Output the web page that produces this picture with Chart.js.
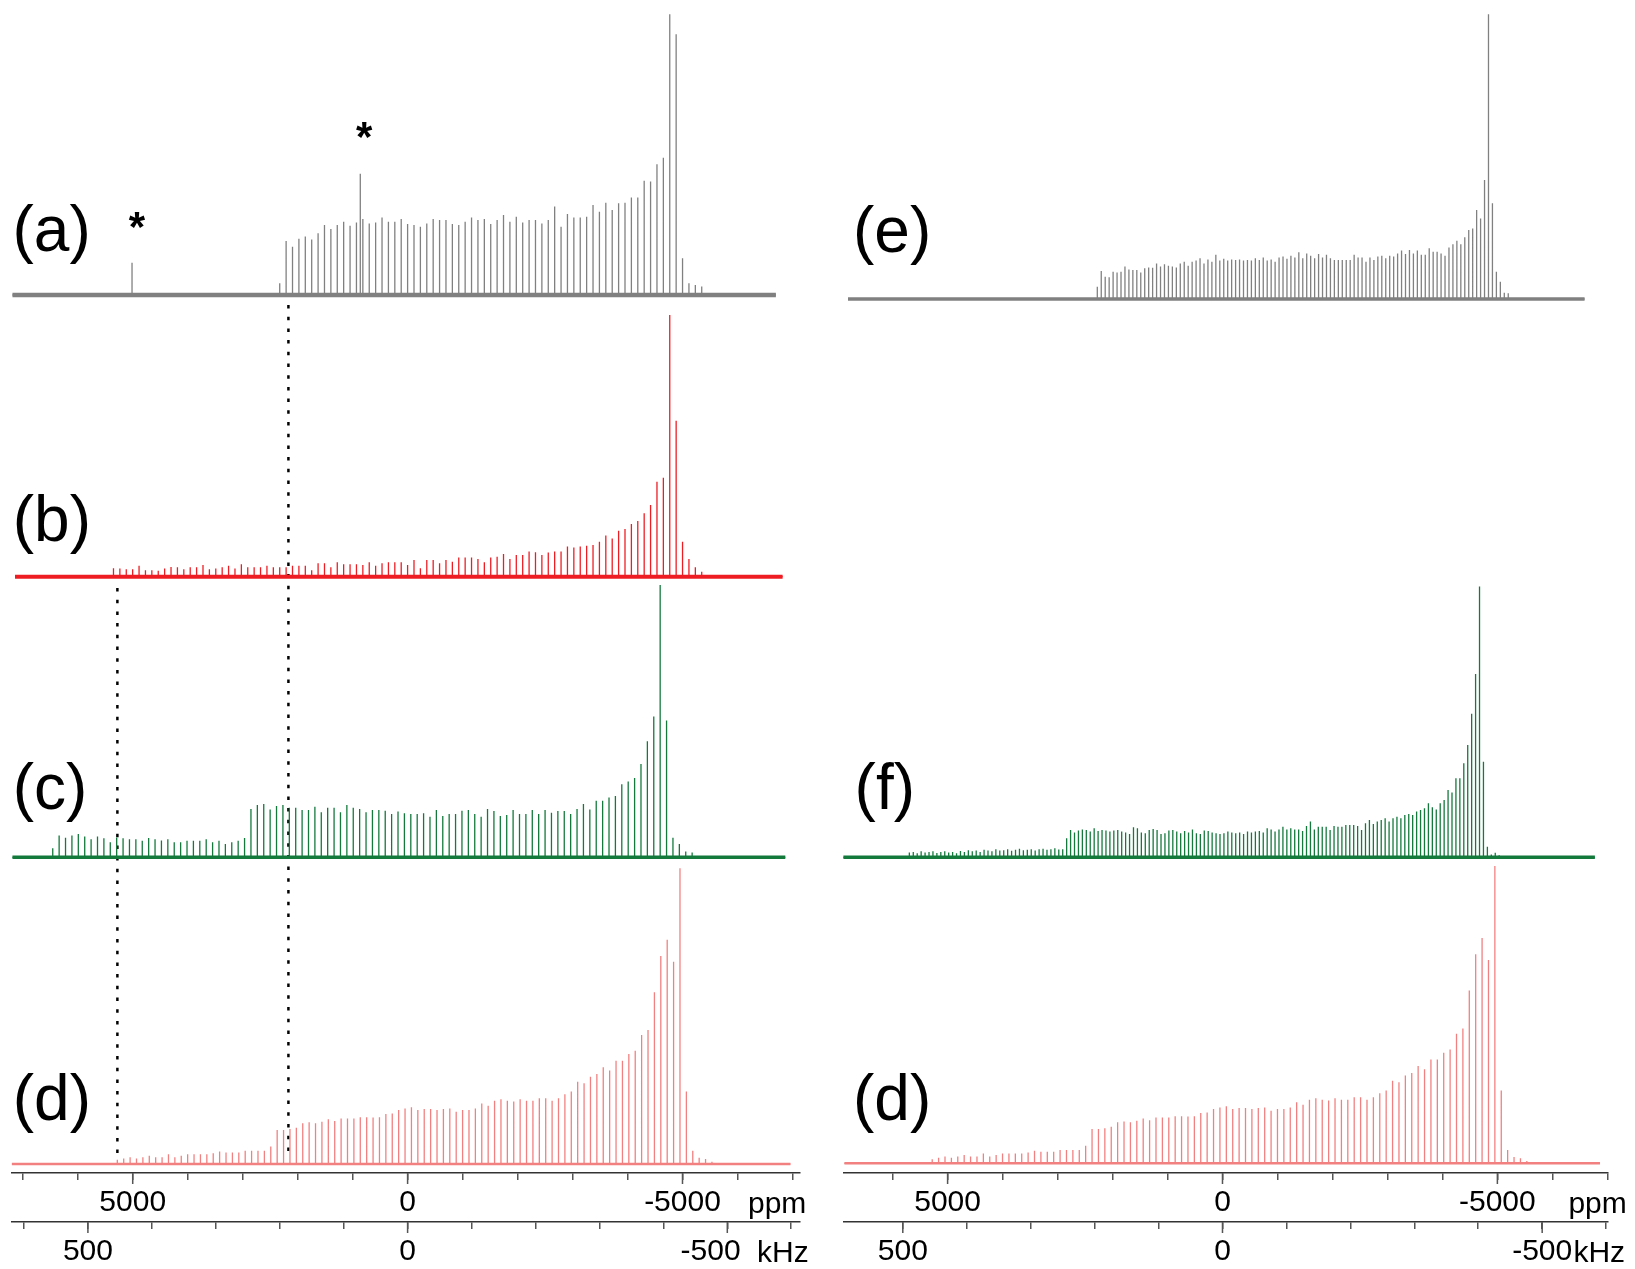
<!DOCTYPE html>
<html>
<head>
<meta charset="utf-8">
<script src="https://cdn.jsdelivr.net/npm/chart.js@4.4.1/dist/chart.umd.min.js"></script>
<style>
  html, body { margin: 0; padding: 0; background: #ffffff; }
  #wrap { position: relative; width: 1635px; height: 1269px; overflow: hidden; }
  canvas { position: absolute; top: 0; }
  #left { left: 0; width: 820px; height: 1269px; }
  #right { left: 820px; width: 815px; height: 1269px; }
</style>
</head>
<body>
<div id="wrap">
  <canvas id="left" width="820" height="1269"></canvas>
  <canvas id="right" width="815" height="1269"></canvas>
</div>
<script>
// ---------- axis ticks and labels ----------
const ppmTicks = [7000, 6000, 5000, 4000, 3000, 2000, 1000, 0, -1000, -2000, -3000, -4000, -5000, -6000, -7000];
const khzTicks = [600, 500, 400, 300, 200, 100, 0, -100, -200, -300, -400, -500, -600];
const ppmTickLabels = [5000, 0, -5000];
const khzTickLabels = [500, 0, -500];
const PPM_PER_KHZ = 11.63;          // 195Pt at 9.4 T

// ---------- spinning sideband manifolds (intensity, % of tallest sideband) ----------
// (a) 10 kHz MAS, first sideband at 200 kHz
const aFirstKHz = 200, aSpinKHz = 10;
const aHeights = [4.2, 19.2, 17.2, 20.0, 20.8, 19.8, 22.0, 24.9, 23.5, 24.9, 26.1, 24.7, 25.8, 27.1, 25.5, 25.8,
  27.6, 26.1, 26.1, 27.1, 25.3, 24.9, 24.3, 25.5, 27.1, 26.7, 26.7, 25.3, 24.9, 26.1, 27.6, 26.7, 27.1, 25.3,
  26.7, 28.5, 26.1, 27.9, 25.8, 26.7, 26.7, 25.5, 26.7, 31.5, 24.3, 28.9, 27.6, 27.6, 27.9, 32.1, 29.7, 32.9,
  30.3, 32.7, 32.9, 34.7, 34.7, 40.7, 40.4, 46.6, 48.9, 100, 92.9, 13.1, 4.2, 3.6, 3.0];
// (a) peaks marked with an asterisk
const aStarKHz = [431, 74];
const aStarHeights = [11.5, 43.2];

// (b)
const bFirstKHz = 460, bSpinKHz = 10;
const bHeights = [3.2, 3.1, 2.8, 2.8, 4.2, 2.5, 2.5, 2.3, 3.1, 3.7, 3.6, 2.8, 3.6, 3.6, 4.5, 2.8, 3.1, 3.6, 4.2,
  3.1, 4.8, 3.6, 3.6, 3.6, 4.2, 3.6, 3.6, 3.6, 4.2, 4.2, 4.2, 2.5, 5.1, 5.1, 3.6, 5.5, 4.8, 4.8, 4.8, 4.5, 5.5,
  4.2, 5.1, 5.5, 5.5, 5.5, 4.5, 6.4, 3.2, 6.4, 6.4, 5.1, 6.4, 5.7, 7.3, 7.3, 7.3, 6.8, 5.5, 7.3, 7.6, 8.7, 6.8,
  8.3, 8.3, 9.6, 9.3, 8.3, 9.2, 9.6, 9.6, 11.5, 11.2, 11.5, 11.8, 12.1, 13.4, 15.7, 14.6, 17.6, 18.2, 20.1,
  21.3, 24.2, 27.4, 36.3, 37.8, 100, 59.6, 13.4, 6.8, 3.6, 1.9];

// (c)
const cFirstKHz = 555, cSpinKHz = 10;
const cHeights = [3.3, 8.0, 7.2, 8.0, 8.6, 7.6, 6.6, 7.6, 7.0, 5.5, 7.3, 7.0, 6.6, 6.6, 6.1, 7.1, 6.6, 6.2, 6.6,
  5.5, 5.5, 6.1, 6.1, 6.1, 6.6, 5.5, 6.1, 4.9, 5.5, 6.1, 7.1, 17.7, 19.2, 19.6, 17.6, 18.8, 19.2, 18.2, 18.2,
  17.4, 17.4, 18.6, 16.5, 18.2, 18.2, 16.5, 19.2, 18.2, 17.7, 16.5, 17.4, 17.4, 17.1, 15.9, 16.8, 16.2, 15.9,
  15.9, 16.2, 14.9, 17.4, 15.2, 15.9, 15.9, 17.1, 17.4, 15.9, 14.9, 17.7, 17.0, 15.2, 15.5, 17.4, 15.9, 15.9,
  17.4, 15.9, 17.4, 16.4, 17.0, 17.0, 15.9, 17.7, 19.6, 17.6, 20.8, 20.8, 22.0, 22.5, 26.8, 27.8, 29.1, 34.3,
  42.6, 51.7, 100, 50.2, 7.2, 4.9, 2.1, 1.8];

// (d)
const dFirstKHz = 454, dSpinKHz = 10;
const dHeights = [1.4, 1.9, 2.3, 1.9, 2.3, 2.8, 2.3, 2.3, 3.3, 2.3, 2.8, 3.3, 3.3, 3.3, 3.3, 3.6, 4.2, 3.9, 3.9,
  3.9, 4.5, 4.5, 4.5, 4.5, 5.9, 11.5, 11.5, 11.8, 12.3, 13.8, 14.1, 13.8, 14.3, 15.1, 14.5, 15.4, 15.4, 15.4,
  15.8, 15.8, 15.7, 15.8, 16.9, 17.1, 18.3, 18.8, 19.2, 18.3, 18.6, 18.6, 18.3, 18.6, 18.8, 17.7, 18.3, 18.3,
  18.8, 20.5, 19.7, 21.4, 21.9, 21.4, 21.1, 21.9, 21.4, 21.4, 22.2, 22.2, 21.4, 22.2, 23.6, 24.5, 27.8, 27.3,
  29.5, 30.4, 32.7, 31.6, 34.9, 34.9, 37.2, 38.3, 43.6, 45.3, 58.1, 70.3, 75.8, 68.4, 100, 24.5, 4.5, 2.1,
  1.7, 0.8];

// (e)
const eFirstKHz = 195.8, eSpinKHz = 6.18;
const eHeights = [4.3, 9.8, 7.8, 7.6, 9.6, 9.3, 9.6, 11.4, 10.4, 10.2, 10.2, 9.3, 10.8, 11.1, 11.0, 12.5, 11.4,
  12.2, 11.7, 11.4, 11.1, 12.5, 13.1, 11.7, 13.1, 13.5, 14.3, 12.5, 13.9, 13.1, 15.5, 13.5, 14.1, 13.5, 13.9,
  13.7, 13.9, 13.5, 13.7, 13.5, 14.3, 13.7, 14.6, 13.5, 13.9, 13.1, 14.6, 14.9, 14.1, 15.2, 14.6, 16.4, 14.3,
  16.0, 15.2, 14.3, 15.8, 14.6, 15.5, 14.3, 13.7, 13.7, 13.7, 13.7, 13.7, 15.5, 14.6, 14.6, 13.1, 14.6, 13.7,
  14.9, 15.2, 14.3, 15.2, 14.9, 16.0, 17.0, 15.8, 17.2, 16.0, 17.0, 15.5, 15.5, 17.8, 16.6, 16.6, 16.0, 15.2,
  18.1, 19.2, 20.5, 19.2, 21.7, 24.2, 24.8, 31.3, 28.3, 41.8, 100, 33.6, 9.6, 6.1, 2.2, 2.0];

// (f)
const fFirstKHz = 489.75, fSpinKHz = 6.15;
const fHeights = [1.8, 2.0, 1.5, 2.2, 1.8, 2.0, 2.2, 1.6, 2.0, 2.2, 1.8, 2.0, 1.5, 2.3, 2.0, 2.6, 2.2, 2.5, 2.0,
  2.8, 2.5, 2.2, 3.0, 2.5, 2.6, 3.0, 2.4, 2.8, 3.2, 2.6, 2.8, 3.0, 2.5, 3.0, 3.2, 2.8, 3.0, 3.3, 2.9, 3.0,
  7.0, 10.1, 9.2, 9.9, 10.3, 10.1, 9.5, 10.7, 9.7, 10.1, 9.9, 9.5, 9.9, 10.1, 9.5, 9.2, 8.6, 11.1, 10.7, 9.2,
  8.9, 10.1, 10.5, 10.1, 8.6, 8.9, 9.9, 10.1, 9.5, 8.9, 9.7, 9.2, 10.3, 8.9, 8.6, 9.9, 9.7, 9.2, 8.9, 8.6,
  8.9, 9.5, 9.2, 8.9, 9.2, 8.6, 9.5, 9.2, 9.5, 9.7, 9.2, 10.7, 10.3, 9.5, 10.3, 11.3, 10.3, 10.7, 10.3, 10.3,
  9.7, 11.6, 13.2, 10.3, 11.3, 11.3, 11.3, 10.1, 11.6, 11.3, 11.3, 11.9, 11.9, 11.9, 11.6, 10.1, 12.6, 13.8,
  12.3, 13.2, 13.8, 14.4, 13.2, 14.4, 15.0, 14.4, 15.6, 16.0, 15.6, 16.9, 17.5, 18.1, 20.0, 18.5, 17.7, 20.0,
  21.2, 24.9, 23.9, 29.2, 29.2, 34.7, 41.5, 53.0, 67.7, 100, 35.3, 3.9, 1.0, 1.7, 0.8];

// ---------- drawing helpers ----------
const FONT = '"Liberation Sans", Arial, Helvetica, sans-serif';
const GRAY = '#808080', RED = '#ee1d23', GREEN = '#137a3c', SALMON = '#f28080';

function sidebands(first, spin, heights) {
  return heights.map((h, i) => ({ x: first - i * spin, h }));
}
function listed(xs, hs) {
  return xs.map((x, i) => ({ x, h: hs[i] }));
}
function spikeData(peaks, lay) {
  const sorted = peaks.slice().sort((p, q) => q.x - p.x);
  const pts = [{ x: lay.from, y: lay.base }];
  for (const p of sorted) {
    pts.push({ x: p.x, y: lay.base }, { x: p.x, y: lay.base + p.h * lay.scale }, { x: p.x, y: lay.base });
  }
  pts.push({ x: lay.to, y: lay.base });
  return pts;
}
function spectrumSets(peaks, lay, color) {
  return [
    { data: spikeData(peaks, lay), borderColor: color, borderWidth: 1.3, pointRadius: 0, tension: 0, fill: false },
    { data: [{ x: lay.from, y: lay.base }, { x: lay.to, y: lay.base }], borderColor: color,
      borderWidth: lay.band, pointRadius: 0, tension: 0, fill: false }
  ];
}
function fixedTicks(values) {
  return scale => {
    scale.ticks = values.filter(v => v >= scale.min && v <= scale.max).map(v => ({ value: v }));
  };
}

// plugin: longer ticks at labelled values, unit names, panel letters, asterisks
const figureText = {
  id: 'figureText',
  afterDraw(chart, args, opts) {
    const ctx = chart.ctx;
    const xs = chart.scales.x, ps = chart.scales.ppm, ys = chart.scales.y;
    ctx.save();
    ctx.strokeStyle = '#555';
    ctx.lineWidth = 1.5;
    ctx.beginPath();
    for (const v of ppmTickLabels) {
      const px = ps.getPixelForValue(v);
      ctx.moveTo(px, ps.top); ctx.lineTo(px, ps.top + 11);
    }
    for (const v of khzTickLabels) {
      const px = xs.getPixelForValue(v);
      ctx.moveTo(px, xs.top); ctx.lineTo(px, xs.top + 11);
    }
    ctx.stroke();

    ctx.fillStyle = '#000';
    ctx.textAlign = 'left';
    ctx.textBaseline = 'alphabetic';
    ctx.font = '30px ' + FONT;
    ctx.fillText('ppm', chart.chartArea.right + opts.ppmDx, ps.top + 39.5);
    ctx.fillText('kHz', chart.chartArea.right + opts.khzDx, xs.top + 39.5);

    ctx.font = '64px ' + FONT;
    for (const l of opts.letters) {
      ctx.fillText(l.text, chart.chartArea.left + l.dx, ys.getPixelForValue(l.y));
    }
    ctx.font = 'bold 42px ' + FONT;
    ctx.textAlign = 'center';
    for (const s of (opts.stars || [])) {
      ctx.fillText('*', xs.getPixelForValue(s.x) + s.dx, ys.getPixelForValue(s.y));
    }
    ctx.restore();
  }
};

function makeChart(id, cfg) {
  const tickFont = { family: FONT, size: 30 };
  return new Chart(document.getElementById(id), {
    type: 'line',
    data: { datasets: cfg.datasets },
    options: {
      responsive: false,
      animation: false,
      devicePixelRatio: 1,
      events: [],
      layout: { padding: cfg.padding },
      plugins: { legend: { display: false }, tooltip: { enabled: false }, figureText: cfg.text },
      scales: {
        x: {
          type: 'linear', position: 'bottom', reverse: true, weight: 1,
          min: cfg.khzMin, max: cfg.khzMax,
          afterBuildTicks: fixedTicks(khzTicks),
          afterFit: s => { s.height = 47; },
          border: { display: true, color: '#333', width: 1.5 },
          grid: { display: true, drawOnChartArea: false, drawTicks: true, tickLength: 7, color: '#555', lineWidth: 1.5 },
          ticks: {
            autoSkip: false, maxRotation: 0, minRotation: 0,
            padding: 5, color: '#000', font: tickFont,
            callback: v => (khzTickLabels.includes(v) ? (v === -500 ? '-500' + cfg.khzTailPad : String(v)) : '')
          }
        },
        ppm: {
          type: 'linear', axis: 'x', position: 'bottom', reverse: true, weight: 0,
          min: cfg.khzMin * PPM_PER_KHZ, max: cfg.khzMax * PPM_PER_KHZ,
          afterBuildTicks: fixedTicks(ppmTicks),
          afterFit: s => { s.height = 49; },
          border: { display: true, color: '#333', width: 1.5 },
          grid: { display: true, drawOnChartArea: false, drawTicks: true, tickLength: 7, color: '#555', lineWidth: 1.5 },
          ticks: {
            autoSkip: false, maxRotation: 0, minRotation: 0,
            padding: 5, color: '#000', font: tickFont,
            callback: v => (ppmTickLabels.includes(v) ? String(v) : '')
          }
        },
        y: { type: 'linear', display: false, min: 0, max: 1173 }
      }
    },
    plugins: [figureText]
  });
}

// ---------- left column: (a) (b) (c) (d) ----------
const layA = { base: 878, scale: 2.807, from: 618, to: -576, band: 4.5 };
const layB = { base: 596.3, scale: 2.617, from: 614, to: -586.5, band: 4 };
const layC = { base: 315.7, scale: 2.723, from: 618, to: -590.7, band: 3.5 };
const layD = { base: 9, scale: 2.957, from: 619, to: -598.7, band: 2.5 };

const guideKHz = [186.4, 453.9];
const guideTop = [868, 585];

const leftSets = [
  ...spectrumSets(sidebands(aFirstKHz, aSpinKHz, aHeights).concat(listed(aStarKHz, aStarHeights)), layA, GRAY),
  ...spectrumSets(sidebands(bFirstKHz, bSpinKHz, bHeights), layB, RED),
  ...spectrumSets(sidebands(cFirstKHz, cSpinKHz, cHeights), layC, GREEN),
  ...spectrumSets(sidebands(dFirstKHz, dSpinKHz, dHeights), layD, SALMON),
  ...guideKHz.map((k, i) => ({
    data: [{ x: k, y: guideTop[i] }, { x: k, y: 15 }], borderColor: '#000', borderWidth: 2.5,
    borderDash: [3.5, 8.2], pointRadius: 0, fill: false
  }))
];

makeChart('left', {
  datasets: leftSets,
  padding: { left: 11.5, right: 20, top: 0, bottom: 0 },
  khzMin: -613.7, khzMax: 619.5,
  khzTailPad: '\u00a0\u00a0\u00a0\u00a0',
  text: {
    ppmDx: -52, khzDx: -43,
    letters: [
      { text: '(a)', dx: 1, y: 922 },
      { text: '(b)', dx: 1.3, y: 632 },
      { text: '(c)', dx: 1.3, y: 364 },
      { text: '(d)', dx: 1.3, y: 53 }
    ],
    stars: [
      { x: aStarKHz[0], dx: 5, y: 932 },
      { x: aStarKHz[1], dx: 4, y: 1022 }
    ]
  }
});

// ---------- right column: (e) (f) (d) ----------
const layE = { base: 874, scale: 2.847, from: 585.7, to: -566.3, band: 3.5 };
const layF = { base: 315.7, scale: 2.707, from: 593.8, to: -582.4, band: 3.5 };
const layD2 = { base: 9.7, scale: 2.973, from: 591.3, to: -590.4, band: 2.5 };

const rightSets = [
  ...spectrumSets(sidebands(eFirstKHz, eSpinKHz, eHeights), layE, GRAY),
  ...spectrumSets(sidebands(fFirstKHz, fSpinKHz, fHeights), layF, GREEN),
  ...spectrumSets(sidebands(dFirstKHz, dSpinKHz, dHeights), layD2, SALMON)
];

makeChart('right', {
  datasets: rightSets,
  padding: { left: 23.4, right: 27.6, top: 0, bottom: 0 },
  khzMin: -602.0, khzMax: 592.9,
  khzTailPad: '',
  text: {
    ppmDx: -39, khzDx: -34,
    letters: [
      { text: '(e)', dx: 9.6, y: 921.5 },
      { text: '(f)', dx: 11.2, y: 364 },
      { text: '(d)', dx: 9.6, y: 53 }
    ]
  }
});
</script>
</body>
</html>
